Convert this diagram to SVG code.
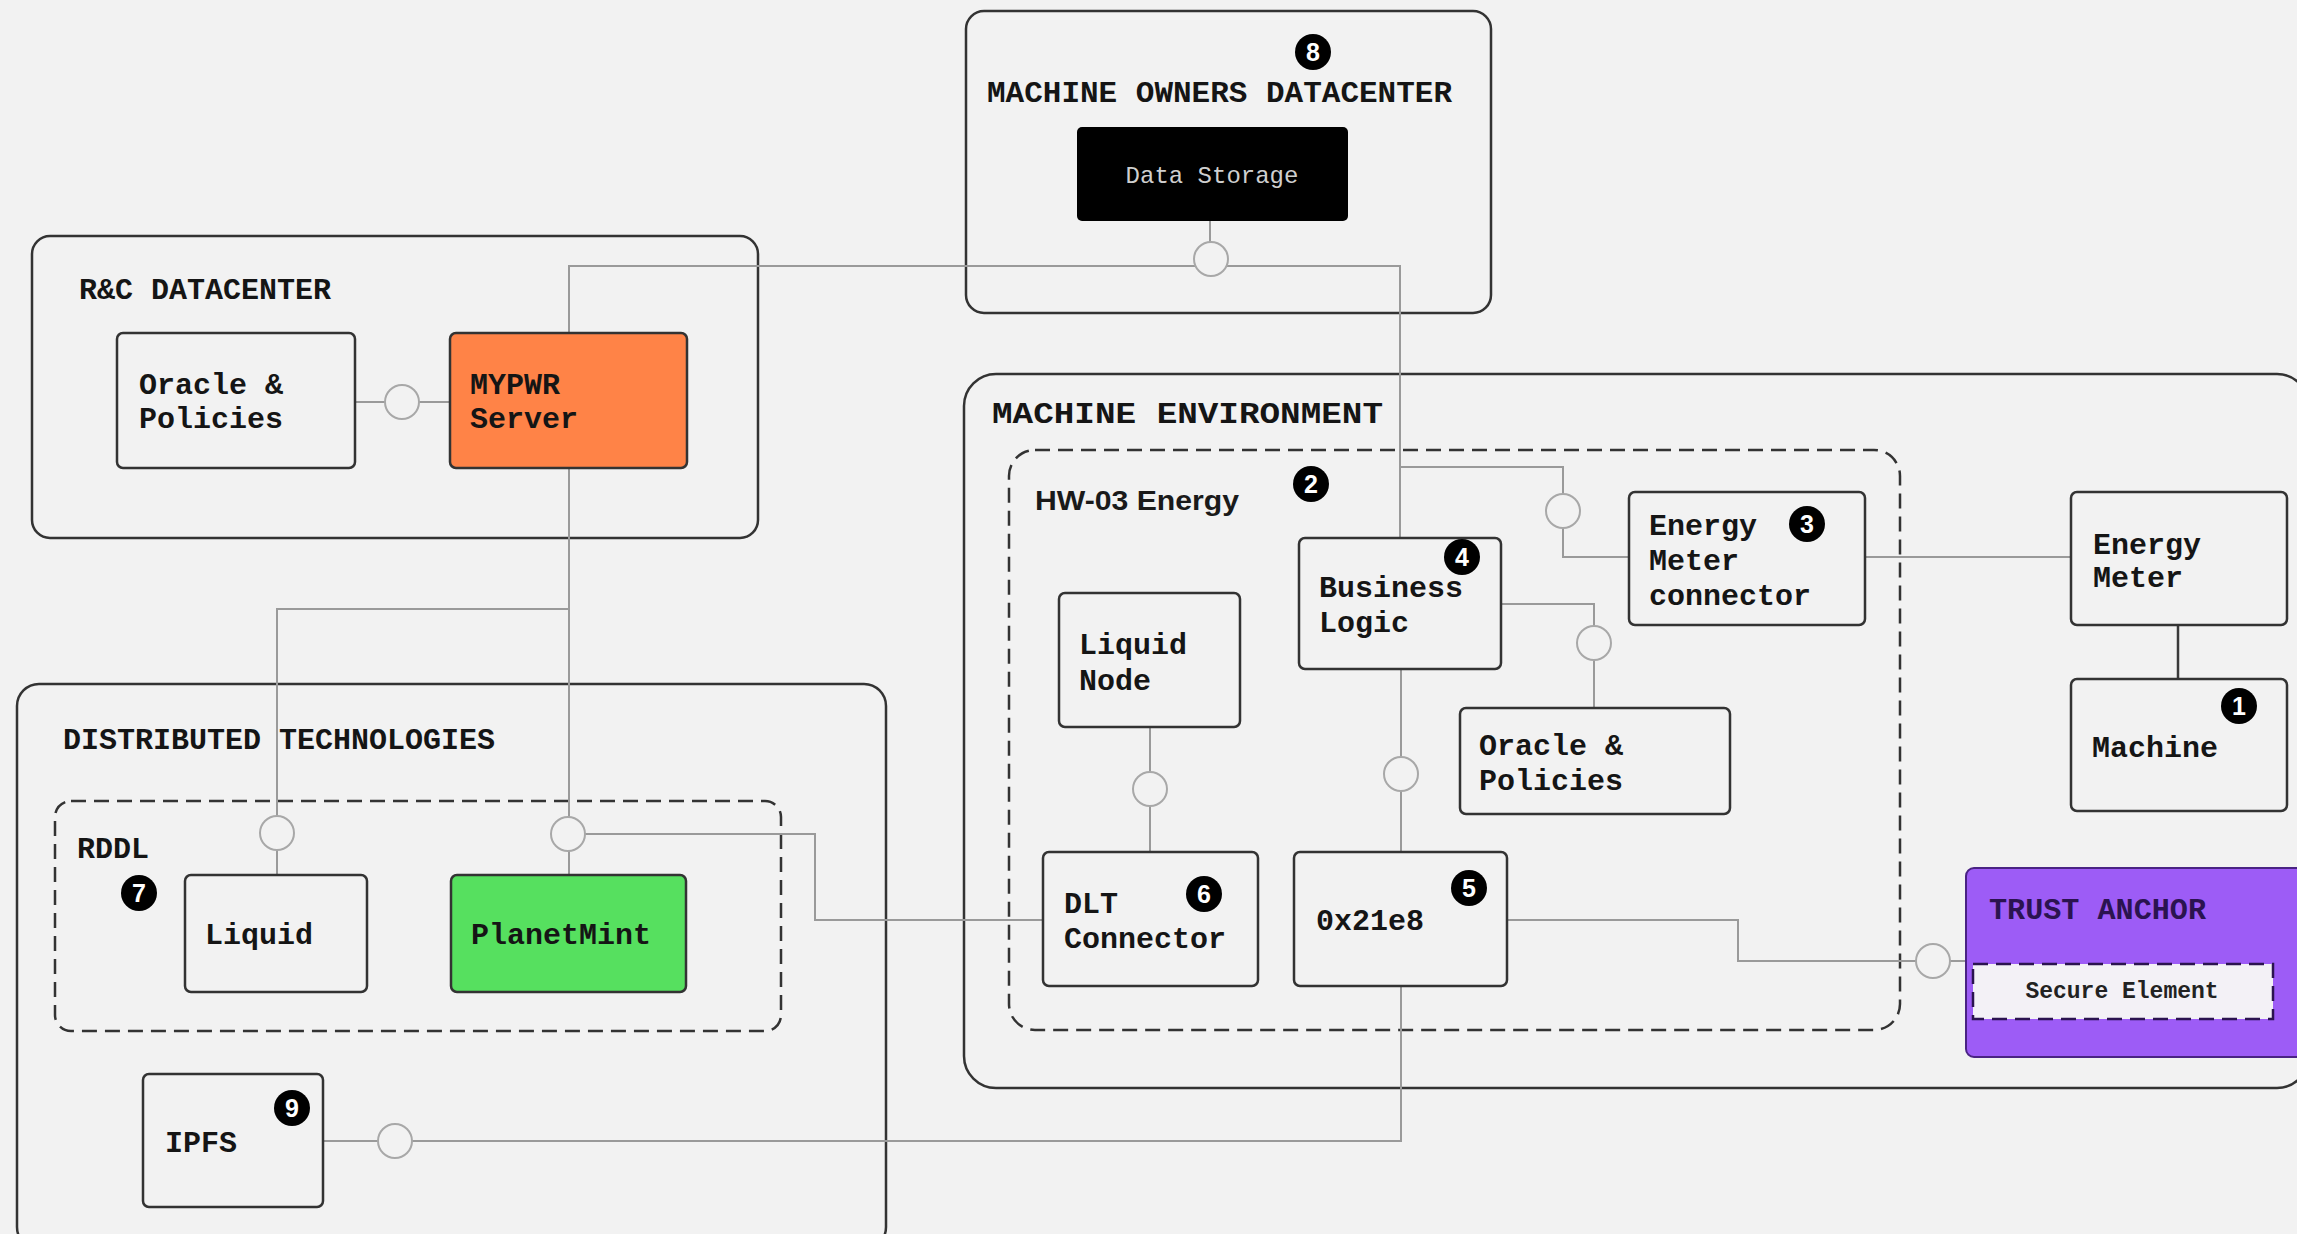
<svg xmlns="http://www.w3.org/2000/svg" width="2297" height="1234" viewBox="0 0 2297 1234">
<style>
.bg{fill:#f2f2f2}
.box{fill:none;stroke:#333;stroke-width:2.5}
.node{fill:#f2f2f2;stroke:#333;stroke-width:2.5}
.dash{fill:none;stroke:#333;stroke-width:2.5;stroke-dasharray:15 8}
.lbl{font-family:'Liberation Mono','DejaVu Sans Mono',monospace;font-weight:bold;font-size:30px;fill:#151515}
.conn{fill:none;stroke:#9a9a9a;stroke-width:2}
.port{fill:#f2f2f2;stroke:#a8a8a8;stroke-width:2}
.bc{fill:#000}
.bt{font-family:'Liberation Sans',Arial,sans-serif;font-weight:bold;font-size:25px;fill:#fff;text-anchor:middle}
</style>
<rect class="bg" x="0" y="0" width="2297" height="1234"/>

<g id="containers">
  <g id="rc-datacenter">
    <rect class="box" x="32" y="236" width="726" height="302" rx="18"/>
    <text class="lbl" x="79" y="299">R&amp;C DATACENTER</text>
  </g>
  <g id="machine-owners-datacenter">
    <rect class="box" x="966" y="11" width="525" height="302" rx="18"/>
    <text class="lbl" x="987" y="102" textLength="465" lengthAdjust="spacingAndGlyphs">MACHINE OWNERS DATACENTER</text>
  </g>
  <g id="machine-environment">
    <rect class="box" x="964" y="374" width="1345" height="714" rx="32"/>
    <text class="lbl" x="992" y="423" textLength="391" lengthAdjust="spacingAndGlyphs">MACHINE ENVIRONMENT</text>
  </g>
  <g id="hw03-energy">
    <rect class="dash" x="1009" y="450" width="891" height="580" rx="26"/>
    <text x="1035" y="510" font-family="'Liberation Sans',Arial,sans-serif" font-weight="bold" font-size="28" fill="#1a1a1a" textLength="204" lengthAdjust="spacingAndGlyphs">HW-03 Energy</text>
  </g>
  <g id="distributed-technologies">
    <rect class="box" x="17" y="684" width="869" height="565" rx="22"/>
    <text class="lbl" x="63" y="749">DISTRIBUTED TECHNOLOGIES</text>
  </g>
  <g id="rddl">
    <rect class="dash" x="55" y="801" width="726" height="230" rx="16"/>
    <text class="lbl" x="77" y="858">RDDL</text>
  </g>
</g>

<g id="connectors">
  <path class="conn" d="M569,333 V266 H1400 V538"/>
  <path class="conn" d="M1210,221 V242"/>
  <path class="conn" d="M1400,467 H1563 V557 H1629"/>
  <path class="conn" d="M1501,604 H1594 V708"/>
  <path class="conn" d="M1401,669 V852"/>
  <path class="conn" d="M1401,986 V1141 H323"/>
  <path class="conn" d="M1150,727 V852"/>
  <path class="conn" d="M1865,557 H2071"/>
  <path d="M2178,625 V679" fill="none" stroke="#3a3a3a" stroke-width="2.5"/>
  <path class="conn" d="M1507,920 H1738 V961 H1966"/>
  <path class="conn" d="M569,468 V875"/>
  <path class="conn" d="M569,609 H277 V875"/>
  <path class="conn" d="M568,834 H815 V920 H1043"/>
  <path class="conn" d="M355,402 H450"/>
  <circle class="port" cx="1211" cy="259" r="17"/>
  <circle class="port" cx="1563" cy="511" r="17"/>
  <circle class="port" cx="1594" cy="643" r="17"/>
  <circle class="port" cx="1401" cy="774" r="17"/>
  <circle class="port" cx="1150" cy="789" r="17"/>
  <circle class="port" cx="395" cy="1141" r="17"/>
  <circle class="port" cx="1933" cy="961" r="17"/>
  <circle class="port" cx="277" cy="833" r="17"/>
  <circle class="port" cx="568" cy="834" r="17"/>
  <circle class="port" cx="402" cy="402" r="17"/>
</g>

<g id="oracle-policies-rc">
  <rect class="node" x="117" y="333" width="238" height="135" rx="6"/>
  <text class="lbl" x="139" y="394">Oracle &amp;</text>
  <text class="lbl" x="139" y="428">Policies</text>
</g>
<g id="mypwr-server">
  <rect x="450" y="333" width="237" height="135" rx="6" fill="#ff8347" stroke="#333" stroke-width="2.5"/>
  <text class="lbl" x="470" y="394">MYPWR</text>
  <text class="lbl" x="470" y="428">Server</text>
</g>
<g id="data-storage">
  <rect x="1077" y="127" width="271" height="94" rx="5" fill="#000"/>
  <text x="1212" y="183" font-family="'Liberation Mono','DejaVu Sans Mono',monospace" font-size="24" fill="#cfcfcf" text-anchor="middle">Data Storage</text>
</g>
<g id="business-logic">
  <rect class="node" x="1299" y="538" width="202" height="131" rx="6"/>
  <text class="lbl" x="1319" y="597">Business</text>
  <text class="lbl" x="1319" y="632">Logic</text>
</g>
<g id="energy-meter-connector">
  <rect class="node" x="1629" y="492" width="236" height="133" rx="6"/>
  <text class="lbl" x="1649" y="535">Energy</text>
  <text class="lbl" x="1649" y="570">Meter</text>
  <text class="lbl" x="1649" y="605">connector</text>
</g>
<g id="liquid-node">
  <rect class="node" x="1059" y="593" width="181" height="134" rx="6"/>
  <text class="lbl" x="1079" y="654">Liquid</text>
  <text class="lbl" x="1079" y="690">Node</text>
</g>
<g id="oracle-policies-me">
  <rect class="node" x="1460" y="708" width="270" height="106" rx="6"/>
  <text class="lbl" x="1479" y="755">Oracle &amp;</text>
  <text class="lbl" x="1479" y="790">Policies</text>
</g>
<g id="dlt-connector">
  <rect class="node" x="1043" y="852" width="215" height="134" rx="6"/>
  <text class="lbl" x="1064" y="913">DLT</text>
  <text class="lbl" x="1064" y="948">Connector</text>
</g>
<g id="ox21e8">
  <rect class="node" x="1294" y="852" width="213" height="134" rx="6"/>
  <text class="lbl" x="1316" y="930">0x21e8</text>
</g>
<g id="energy-meter">
  <rect class="node" x="2071" y="492" width="216" height="133" rx="6"/>
  <text class="lbl" x="2093" y="554">Energy</text>
  <text class="lbl" x="2093" y="587">Meter</text>
</g>
<g id="machine">
  <rect class="node" x="2071" y="679" width="216" height="132" rx="6"/>
  <text class="lbl" x="2092" y="757">Machine</text>
</g>
<g id="trust-anchor">
  <rect x="1966" y="868" width="345" height="189" rx="8" fill="#9d5cf6" stroke="#4a2384" stroke-width="2"/>
  <text class="lbl" x="1989" y="919" style="fill:#2b1350" textLength="217" lengthAdjust="spacingAndGlyphs">TRUST ANCHOR</text>
  <g id="secure-element">
    <rect x="1973" y="964" width="300" height="55" fill="#f3f1f6" stroke="#2b1350" stroke-width="2.5" stroke-dasharray="15 8"/>
    <text x="2122" y="998" font-family="'Liberation Mono','DejaVu Sans Mono',monospace" font-weight="bold" font-size="23" fill="#222" text-anchor="middle">Secure Element</text>
  </g>
</g>
<g id="liquid">
  <rect class="node" x="185" y="875" width="182" height="117" rx="6"/>
  <text class="lbl" x="205" y="944">Liquid</text>
</g>
<g id="planetmint">
  <rect x="451" y="875" width="235" height="117" rx="6" fill="#56e05f" stroke="#333" stroke-width="2.5"/>
  <text class="lbl" x="471" y="944">PlanetMint</text>
</g>
<g id="ipfs">
  <rect class="node" x="143" y="1074" width="180" height="133" rx="6"/>
  <text class="lbl" x="165" y="1152">IPFS</text>
</g>

<g id="badges">
  <g><circle class="bc" cx="1313" cy="52" r="18"/><text class="bt" x="1313" y="61">8</text></g>
  <g><circle class="bc" cx="1311" cy="484" r="18"/><text class="bt" x="1311" y="493">2</text></g>
  <g><circle class="bc" cx="1462" cy="557" r="18"/><text class="bt" x="1462" y="566">4</text></g>
  <g><circle class="bc" cx="1807" cy="524" r="18"/><text class="bt" x="1807" y="533">3</text></g>
  <g><circle class="bc" cx="1204" cy="894" r="18"/><text class="bt" x="1204" y="903">6</text></g>
  <g><circle class="bc" cx="1469" cy="888" r="18"/><text class="bt" x="1469" y="897">5</text></g>
  <g><circle class="bc" cx="2239" cy="706" r="18"/><text class="bt" x="2239" y="715">1</text></g>
  <g><circle class="bc" cx="139" cy="893" r="18"/><text class="bt" x="139" y="902">7</text></g>
  <g><circle class="bc" cx="292" cy="1108" r="18"/><text class="bt" x="292" y="1117">9</text></g>
</g>
</svg>
